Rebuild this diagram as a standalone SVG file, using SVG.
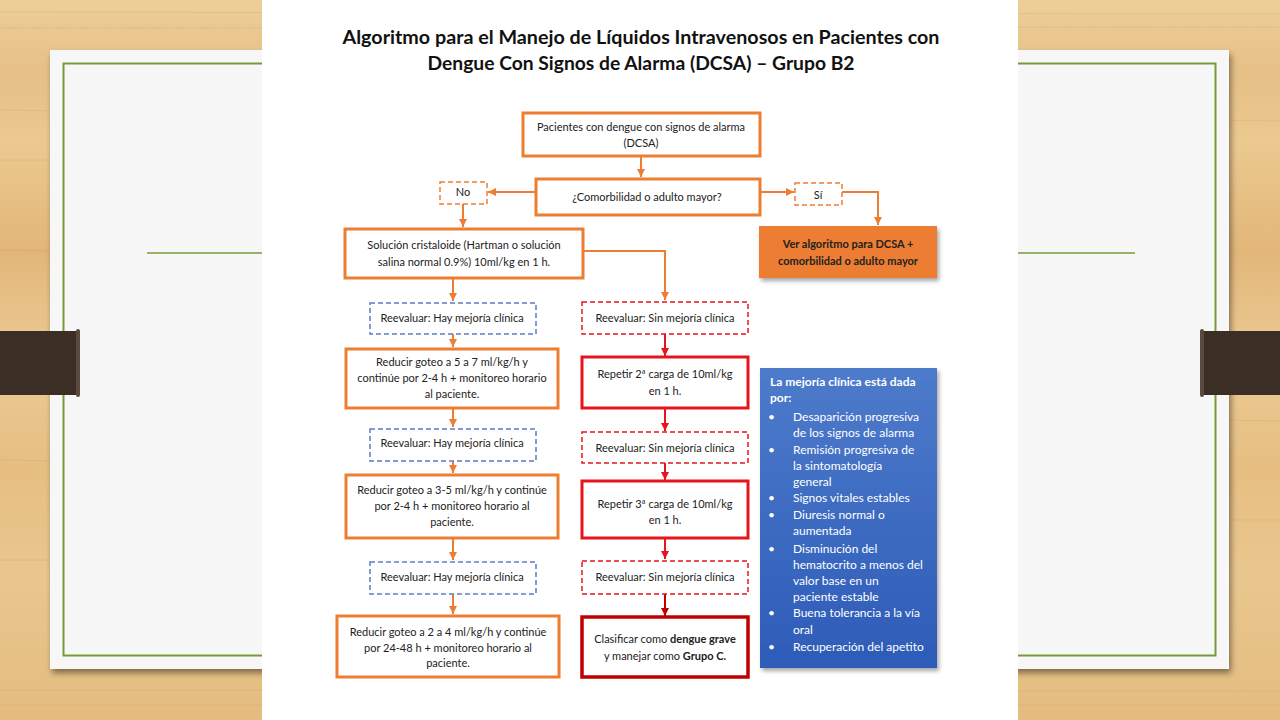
<svg xmlns="http://www.w3.org/2000/svg" width="1280" height="720" viewBox="0 0 1280 720">
<defs>
  <linearGradient id="wood" x1="0" y1="0" x2="0" y2="1">
    <stop offset="0" stop-color="#EDCF98"/>
    <stop offset="0.1" stop-color="#E6C086"/>
    <stop offset="0.2" stop-color="#EBC98F"/>
    <stop offset="0.35" stop-color="#E2B679"/>
    <stop offset="0.5" stop-color="#EBCB93"/>
    <stop offset="0.65" stop-color="#E6BE82"/>
    <stop offset="0.8" stop-color="#E9C78E"/>
    <stop offset="1" stop-color="#E4BC80"/>
  </linearGradient>
  <linearGradient id="bluefill" x1="0" y1="0" x2="0" y2="1">
    <stop offset="0" stop-color="#4E7BCB"/>
    <stop offset="1" stop-color="#2D5BB8"/>
  </linearGradient>
  <filter id="shadow" x="-10%" y="-10%" width="130%" height="130%">
    <feGaussianBlur in="SourceAlpha" stdDeviation="3"/>
    <feOffset dx="2" dy="4" result="b"/>
    <feComponentTransfer><feFuncA type="linear" slope="0.45"/></feComponentTransfer>
    <feMerge><feMergeNode/><feMergeNode in="SourceGraphic"/></feMerge>
  </filter>
  <filter id="sshadow" x="-10%" y="-10%" width="130%" height="130%">
    <feGaussianBlur in="SourceAlpha" stdDeviation="2"/>
    <feOffset dx="2" dy="3" result="b"/>
    <feComponentTransfer><feFuncA type="linear" slope="0.35"/></feComponentTransfer>
    <feMerge><feMergeNode/><feMergeNode in="SourceGraphic"/></feMerge>
  </filter>
  <marker id="aO" markerUnits="userSpaceOnUse" markerWidth="9" markerHeight="9" refX="8" refY="4" orient="auto">
    <path d="M0,0 L8,4 L0,8 z" fill="#ED7D31"/>
  </marker>
  <marker id="aR" markerUnits="userSpaceOnUse" markerWidth="9" markerHeight="9" refX="8" refY="4" orient="auto">
    <path d="M0,0 L8,4 L0,8 z" fill="#E8141B"/>
  </marker>
  <marker id="aD" markerUnits="userSpaceOnUse" markerWidth="9" markerHeight="9" refX="8" refY="4" orient="auto">
    <path d="M0,0 L8,4 L0,8 z" fill="#C00000"/>
  </marker>
</defs>
<style>
  .t { font-family: Lato, "Liberation Sans", sans-serif; font-size: 11px; fill: #222; text-anchor: middle; }
  .b { font-weight: bold; }
  .title { font-family: Lato, "Liberation Sans", sans-serif; font-size: 19.5px; font-weight: bold; fill: #111; text-anchor: middle; }
  .box { fill: #fff; stroke: #ED7D31; stroke-width: 3; }
  .dashB { fill: #fff; stroke: #5B7EC6; stroke-width: 1.5; stroke-dasharray: 5 3; }
  .dashR { fill: #fff; stroke: #E8141B; stroke-width: 1.5; stroke-dasharray: 5 3; }
  .dashO { fill: #fff; stroke: #ED7D31; stroke-width: 1.5; stroke-dasharray: 5 3; }
  .rbox { fill: #fff; stroke: #E8141B; stroke-width: 3; }
  .dbox { fill: #fff; stroke: #C00000; stroke-width: 3.5; }
  .co { fill: none; stroke: #ED7D31; stroke-width: 2; marker-end: url(#aO); }
  .cr { fill: none; stroke: #E8141B; stroke-width: 2; marker-end: url(#aR); }
  .cd { fill: none; stroke: #C00000; stroke-width: 2; marker-end: url(#aD); }
  .bl { font-family: Lato, "Liberation Sans", sans-serif; font-size: 12px; fill: #fff; }
</style>

<!-- background -->
<rect x="0" y="0" width="1280" height="720" fill="url(#wood)"/>
<g opacity="0.25" stroke="#C9995A" stroke-width="1">
  <line x1="0" y1="12" x2="1280" y2="14"/>
  <line x1="0" y1="28" x2="1280" y2="27"/>
  <line x1="0" y1="110" x2="60" y2="111"/>
  <line x1="0" y1="160" x2="60" y2="160"/>
  <line x1="0" y1="250" x2="60" y2="251"/>
  <line x1="0" y1="460" x2="60" y2="461"/>
  <line x1="0" y1="560" x2="60" y2="560"/>
  <line x1="1220" y1="120" x2="1280" y2="121"/>
  <line x1="1220" y1="420" x2="1280" y2="421"/>
  <line x1="1220" y1="520" x2="1280" y2="520"/>
  <line x1="0" y1="690" x2="1280" y2="691"/>
  <line x1="0" y1="705" x2="1280" y2="705"/>
</g>

<!-- paper -->
<rect x="50" y="50" width="1179" height="619" fill="#F7F7F7" filter="url(#shadow)"/>
<rect x="63.5" y="63.5" width="1152" height="592" fill="none" stroke="#7A9A3A" stroke-width="2"/>
<line x1="147" y1="253" x2="1135" y2="253" stroke="#7A9A3A" stroke-width="1.5"/>

<!-- straps -->
<rect x="0" y="331" width="79" height="64" fill="#3A2E25"/>
<rect x="76" y="329" width="4" height="68" rx="2" fill="#5A4B3E"/>
<rect x="1201" y="331" width="79" height="64" fill="#3A2E25"/>
<rect x="1200" y="329" width="4" height="68" rx="2" fill="#5A4B3E"/>

<!-- central image -->
<rect x="262" y="0" width="756" height="720" fill="#FFFFFF"/>

<g id="title">
  <text class="title" x="641" y="44" textLength="597" lengthAdjust="spacingAndGlyphs">Algoritmo para el Manejo de Líquidos Intravenosos en Pacientes con</text>
  <text class="title" x="641" y="70" textLength="427" lengthAdjust="spacingAndGlyphs">Dengue Con Signos de Alarma (DCSA) – Grupo B2</text>
</g>

<g id="connectors">
  <path class="co" d="M641,156 V177"/>
  <path class="co" d="M535,192 H488"/>
  <path class="co" d="M760,192 H794"/>
  <path class="co" d="M842,192 H878 V225"/>
  <path class="co" d="M463,204 V227"/>
  <path class="co" d="M583,251 H665 V300"/>
  <path class="co" d="M453,278 V301"/>
  <path class="co" d="M453,334 V347"/>
  <path class="co" d="M453,408 V427"/>
  <path class="co" d="M453,461 V473"/>
  <path class="co" d="M453,538 V560"/>
  <path class="co" d="M453,594 V614"/>
  <path class="cr" d="M665,334 V356"/>
  <path class="cr" d="M665,408 V431"/>
  <path class="cr" d="M665,463 V480"/>
  <path class="cr" d="M665,538 V559"/>
  <path class="cd" d="M665,594 V616"/>
</g>

<g id="n-start">
  <rect class="box" x="523" y="113" width="237" height="43"/>
  <text class="t" x="641" y="131">Pacientes con dengue con signos de alarma</text>
  <text class="t" x="641" y="147">(DCSA)</text>
</g>
<g id="n-comorb">
  <rect class="box" x="536" y="179" width="224" height="36"/>
  <text class="t" x="647" y="201">¿Comorbilidad o adulto mayor?</text>
</g>
<g id="n-no">
  <rect class="dashO" x="440" y="182" width="47" height="22"/>
  <text class="t" x="463" y="196">No</text>
</g>
<g id="n-si">
  <rect class="dashO" x="795" y="183" width="47" height="22"/>
  <text class="t" x="818" y="199">Sí</text>
</g>
<g id="n-ver">
  <rect x="759" y="226" width="178" height="52" fill="#ED7D31" filter="url(#sshadow)"/>
  <text class="t b" x="848" y="248">Ver algoritmo para DCSA +</text>
  <text class="t b" x="848" y="265">comorbilidad o adulto mayor</text>
</g>
<g id="n-sol">
  <rect class="box" x="345" y="229" width="238" height="49"/>
  <text class="t" x="464" y="249">Solución cristaloide (Hartman o solución</text>
  <text class="t" x="464" y="266">salina normal 0.9%) 10ml/kg en 1 h.</text>
</g>

<g id="n-hay1">
  <rect class="dashB" x="370" y="303" width="166" height="31"/>
  <text class="t" x="452" y="322">Reevaluar: Hay mejoría clínica</text>
</g>
<g id="n-red1">
  <rect class="box" x="346" y="349" width="212" height="59"/>
  <text class="t" x="452" y="366">Reducir goteo a 5 a 7 ml/kg/h y</text>
  <text class="t" x="452" y="382">continúe por 2-4 h + monitoreo horario</text>
  <text class="t" x="452" y="398">al paciente.</text>
</g>
<g id="n-hay2">
  <rect class="dashB" x="370" y="429" width="166" height="32"/>
  <text class="t" x="452" y="447">Reevaluar: Hay mejoría clínica</text>
</g>
<g id="n-red2">
  <rect class="box" x="346" y="475" width="212" height="63"/>
  <text class="t" x="452" y="494">Reducir goteo a 3-5 ml/kg/h y continúe</text>
  <text class="t" x="452" y="510">por 2-4 h + monitoreo horario al</text>
  <text class="t" x="452" y="526">paciente.</text>
</g>
<g id="n-hay3">
  <rect class="dashB" x="370" y="562" width="166" height="32"/>
  <text class="t" x="452" y="581">Reevaluar: Hay mejoría clínica</text>
</g>
<g id="n-red3">
  <rect class="box" x="337" y="616" width="222" height="61"/>
  <text class="t" x="448" y="636">Reducir goteo a 2 a 4 ml/kg/h y continúe</text>
  <text class="t" x="448" y="652">por 24-48 h + monitoreo horario al</text>
  <text class="t" x="448" y="667">paciente.</text>
</g>

<g id="n-sin1">
  <rect class="dashR" x="582" y="302" width="166" height="32"/>
  <text class="t" x="665" y="322">Reevaluar: Sin mejoría clínica</text>
</g>
<g id="n-rep2">
  <rect class="rbox" x="582" y="357" width="166" height="51"/>
  <text class="t" x="665" y="378">Repetir 2ª carga de 10ml/kg</text>
  <text class="t" x="665" y="395">en 1 h.</text>
</g>
<g id="n-sin2">
  <rect class="dashR" x="582" y="432" width="166" height="31"/>
  <text class="t" x="665" y="452">Reevaluar: Sin mejoría clínica</text>
</g>
<g id="n-rep3">
  <rect class="rbox" x="582" y="481" width="166" height="57"/>
  <text class="t" x="665" y="508">Repetir 3ª carga de 10ml/kg</text>
  <text class="t" x="665" y="524">en 1 h.</text>
</g>
<g id="n-sin3">
  <rect class="dashR" x="582" y="561" width="166" height="33"/>
  <text class="t" x="665" y="581">Reevaluar: Sin mejoría clínica</text>
</g>
<g id="n-clas">
  <rect class="dbox" x="582" y="617" width="166" height="60"/>
  <text class="t" x="665" y="643">Clasificar como <tspan class="b">dengue grave</tspan></text>
  <text class="t" x="665" y="660">y manejar como <tspan class="b">Grupo C.</tspan></text>
</g>

<g id="n-mejoria">
  <rect x="760" y="368" width="177" height="300" fill="url(#bluefill)" filter="url(#sshadow)"/>
  <text class="bl b" x="770" y="386">La mejoría clínica está dada</text>
  <text class="bl b" x="770" y="402">por:</text>
  <g class="bl">
    <text class="bl" x="768" y="421">•</text>
    <text class="bl" x="793" y="421">Desaparición progresiva</text>
    <text class="bl" x="793" y="437">de los signos de alarma</text>
    <text class="bl" x="768" y="454">•</text>
    <text class="bl" x="793" y="454">Remisión progresiva de</text>
    <text class="bl" x="793" y="470">la sintomatología</text>
    <text class="bl" x="793" y="486">general</text>
    <text class="bl" x="768" y="502">•</text>
    <text class="bl" x="793" y="502">Signos vitales estables</text>
    <text class="bl" x="768" y="519">•</text>
    <text class="bl" x="793" y="519">Diuresis normal o</text>
    <text class="bl" x="793" y="535">aumentada</text>
    <text class="bl" x="768" y="553">•</text>
    <text class="bl" x="793" y="553">Disminución del</text>
    <text class="bl" x="793" y="569">hematocrito a menos del</text>
    <text class="bl" x="793" y="585">valor base en un</text>
    <text class="bl" x="793" y="601">paciente estable</text>
    <text class="bl" x="768" y="617">•</text>
    <text class="bl" x="793" y="617">Buena tolerancia a la vía</text>
    <text class="bl" x="793" y="634">oral</text>
    <text class="bl" x="768" y="651">•</text>
    <text class="bl" x="793" y="651">Recuperación del apetito</text>
  </g>
</g>
</svg>
